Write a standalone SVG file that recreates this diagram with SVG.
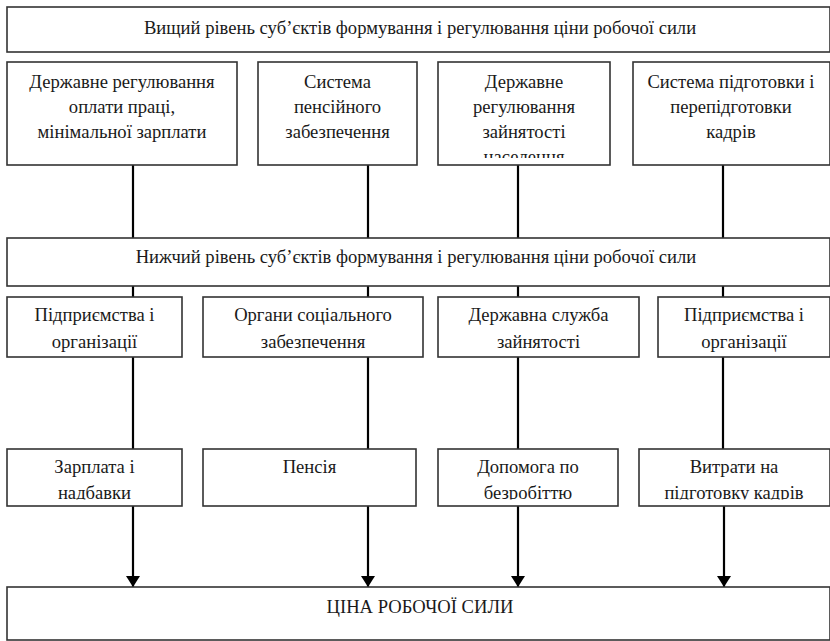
<svg xmlns="http://www.w3.org/2000/svg" width="830" height="641" viewBox="0 0 830 641">
<defs>
<style>
.box{fill:#fff;stroke:#333;stroke-width:1.6}
.t{font-family:'Liberation Serif','DejaVu Serif',serif;font-size:18.6px;fill:#1a1a1a;text-anchor:middle}
.c{stroke:#000;stroke-width:2.2;fill:none}
</style>
<marker id="ah" markerWidth="11" markerHeight="14" refX="11" refY="7" orient="auto" markerUnits="userSpaceOnUse" viewBox="0 0 11 14">
<path d="M0,0 L11,7 L0,14 Z" fill="#000"/>
</marker>
<clipPath id="clipTop"><rect x="0" y="0" width="830" height="158"/></clipPath>
<clipPath id="clipBot"><rect x="0" y="440" width="830" height="59.5"/></clipPath>
</defs>
<rect width="830" height="641" fill="#fff"/>

<g id="connectors">
<line class="c" x1="133" y1="165" x2="133" y2="238"/>
<line class="c" x1="368" y1="165" x2="368" y2="238"/>
<line class="c" x1="518" y1="165" x2="518" y2="238"/>
<line class="c" x1="723" y1="165" x2="723" y2="238"/>
<line class="c" x1="133" y1="286" x2="133" y2="297"/>
<line class="c" x1="368" y1="286" x2="368" y2="297"/>
<line class="c" x1="518" y1="286" x2="518" y2="297"/>
<line class="c" x1="723" y1="286" x2="723" y2="297"/>
<line class="c" x1="133" y1="357" x2="133" y2="449"/>
<line class="c" x1="368" y1="357" x2="368" y2="449"/>
<line class="c" x1="518" y1="357" x2="518" y2="449"/>
<line class="c" x1="723" y1="357" x2="723" y2="449"/>
<line class="c" x1="133" y1="506" x2="133" y2="587" marker-end="url(#ah)"/>
<line class="c" x1="368" y1="506" x2="368" y2="587" marker-end="url(#ah)"/>
<line class="c" x1="518" y1="506" x2="518" y2="587" marker-end="url(#ah)"/>
<line class="c" x1="724" y1="506" x2="724" y2="587" marker-end="url(#ah)"/>
</g>

<g id="top-level">
<rect class="box" x="7" y="7" width="823" height="45"/>
<text class="t" x="420" y="34">Вищий рівень суб’єктів формування і регулювання ціни робочої сили</text>
</g>

<g id="wage-regulation">
<rect class="box" x="7" y="62" width="230" height="103"/>
<text class="t" x="122" y="88">Державне регулювання</text>
<text class="t" x="122" y="113">оплати праці,</text>
<text class="t" x="122" y="138">мінімальної зарплати</text>
</g>

<g id="pension-system">
<rect class="box" x="258" y="62" width="159" height="103"/>
<text class="t" x="337.5" y="88">Система</text>
<text class="t" x="337.5" y="113">пенсійного</text>
<text class="t" x="337.5" y="138">забезпечення</text>
</g>

<g id="employment-regulation">
<rect class="box" x="438" y="62" width="172" height="103"/>
<text class="t" x="524" y="88">Державне</text>
<text class="t" x="524" y="113">регулювання</text>
<text class="t" x="524" y="138">зайнятості</text>
<text class="t" x="524" y="163" clip-path="url(#clipTop)">населення</text>
</g>

<g id="training-system">
<rect class="box" x="633" y="62" width="197" height="103"/>
<text class="t" x="731" y="88">Система підготовки і</text>
<text class="t" x="731" y="113">перепідготовки</text>
<text class="t" x="731" y="138">кадрів</text>
</g>

<g id="lower-level">
<rect class="box" x="7" y="238" width="823" height="48"/>
<text class="t" x="416" y="263">Нижчий рівень суб’єктів формування і регулювання ціни робочої сили</text>
</g>

<g id="enterprises-1">
<rect class="box" x="7" y="297" width="175" height="60"/>
<text class="t" x="94.5" y="321">Підприємства і</text>
<text class="t" x="94.5" y="348">організації</text>
</g>

<g id="social-security">
<rect class="box" x="203" y="297" width="220" height="60"/>
<text class="t" x="313" y="321">Органи соціального</text>
<text class="t" x="313" y="348">забезпечення</text>
</g>

<g id="employment-service">
<rect class="box" x="438" y="297" width="201" height="60"/>
<text class="t" x="538.5" y="321">Державна служба</text>
<text class="t" x="538.5" y="348">зайнятості</text>
</g>

<g id="enterprises-2">
<rect class="box" x="658" y="297" width="172" height="60"/>
<text class="t" x="744" y="321">Підприємства і</text>
<text class="t" x="744" y="348">організації</text>
</g>

<g id="wages">
<rect class="box" x="7" y="449" width="175" height="57"/>
<text class="t" x="94.5" y="473">Зарплата і</text>
<text class="t" x="94.5" y="499" clip-path="url(#clipBot)">надбавки</text>
</g>

<g id="pension">
<rect class="box" x="203" y="449" width="213" height="57"/>
<text class="t" x="309.5" y="473">Пенсія</text>
</g>

<g id="unemployment-benefit">
<rect class="box" x="438" y="449" width="180" height="57"/>
<text class="t" x="528" y="473">Допомога по</text>
<text class="t" x="528" y="499" clip-path="url(#clipBot)">безробіттю</text>
</g>

<g id="training-costs">
<rect class="box" x="639" y="449" width="191" height="57"/>
<text class="t" x="734" y="473">Витрати на</text>
<text class="t" x="734" y="499" clip-path="url(#clipBot)">підготовку кадрів</text>
</g>

<g id="labour-price">
<rect class="box" x="7" y="587" width="823" height="53"/>
<text class="t" x="420" y="613">ЦІНА РОБОЧОЇ СИЛИ</text>
</g>
</svg>
